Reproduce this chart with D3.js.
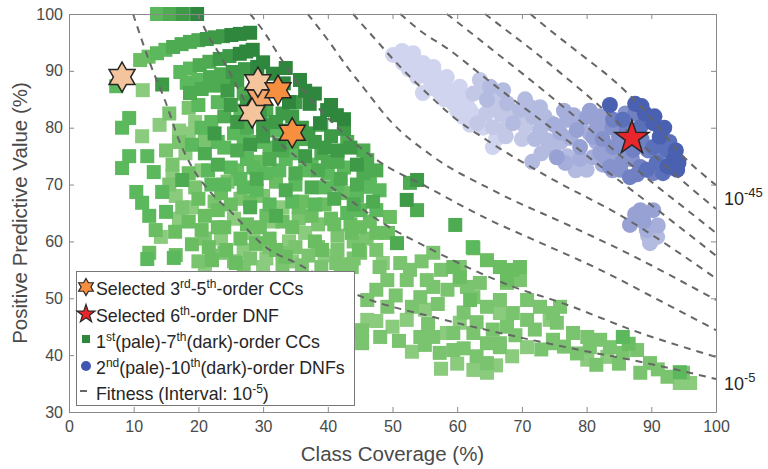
<!DOCTYPE html>
<html>
<head>
<meta charset="utf-8">
<script src="https://cdn.jsdelivr.net/npm/d3@7"></script>
<style>
  body { margin: 0; background: #fff; }
  svg { font-family: "Liberation Sans", Arial, Helvetica, sans-serif; }
</style>
</head>
<body>
<div id="chart"></div>
<script>
// axis ticks
const xTicks = [0, 10, 20, 30, 40, 50, 60, 70, 80, 90, 100];
const yTicks = [30, 40, 50, 60, 70, 80, 90, 100];

// CC points [coverage, ppv], 1st (pale) .. 7th (dark) order
const ccOrder1 = [[11.3,78.5],[14.2,60.8],[11.4,86.6],[17.0,79.5],[19.5,81.0],[18.0,75.5],[20.5,72.5],[16.5,68.0],[19.0,66.0],[25.5,64.0],[28.5,61.5],[31.5,63.5],[34.0,60.0],[27.0,58.5],[30.5,57.0],[23.5,60.5],[36.5,61.5],[39.5,57.5],[33.0,66.0],[16.0,71.5],[18.5,79.0],[14.0,80.5],[17.0,64.0],[30.0,55.5],[34.5,56.5],[21.0,55.0],
  [58.4,43.9],[62.5,37.4],[64.6,36.9],[80.1,39.2],[83.2,39.7],[94.4,35.1],[96.0,35.1],[74.3,46.2],[66.6,47.4],[60.4,45.7],[55.0,48.0],[46.1,46.2],[52.2,46.2],[48.5,56.2],[70.8,41.4],[57.5,37.6],[60.0,38.5],[66.0,38.2],[68.5,39.8],[53.0,40.6],[50.0,45.0],[47.5,46.0]];
const ccOrder2 = [[15.5,82.5],[18.5,83.5],[21.0,78.0],[16.0,73.5],[19.5,69.5],[22.5,67.0],[24.5,70.5],[26.5,67.5],[30.0,68.0],[35.5,64.0],[38.5,63.0],[41.5,61.0],[44.0,60.0],[37.0,57.5],[42.0,56.0],[22.0,57.5],[25.5,56.5],[29.0,59.5],[33.0,58.0],[45.0,58.0],[43.7,55.5],[41.3,56.2],[36.0,55.8],[17.5,66.0],[15.5,70.0],[17.0,77.5],[15.0,76.0],[21.0,60.5],[24.0,58.0],[28.0,57.0],[31.0,59.0],[35.0,59.0],[38.5,59.0],[41.5,58.5],[44.0,57.0],[20.0,56.5],[27.0,55.5],[33.0,55.8],[39.0,55.5],[47.5,58.5],[46.0,60.5],[48.0,55.5],
  [56.3,58.0],[60.4,55.5],[60.4,53.2],[63.5,52.7],[62.5,50.2],[61.5,52.0],[64.6,48.5],[67.7,52.7],[66.6,49.7],[69.7,53.2],[68.6,47.4],[70.8,49.7],[72.8,48.5],[75.9,48.5],[74.8,42.7],[77.9,43.9],[80.1,43.2],[82.1,42.7],[80.5,41.4],[83.6,41.4],[85.6,40.4],[87.8,40.9],[89.8,38.6],[88.3,36.9],[94.9,36.9],[62.5,43.9],[59.4,40.9],[64.6,38.6],[66.6,41.4],[57.3,40.4],[64.6,42.1],[66.6,42.1],[74.8,42.1],[59.4,43.9],[56.3,43.2],[54.3,43.2],[48.1,43.2],[45.0,43.9],[45.3,42.1],[45.3,44.4],[49.2,48.5],[46.1,49.7],[52.2,53.2],[49.2,53.2],[55.3,53.2],[56.3,52.0],[54.3,50.2],[51.2,56.2],[52.7,55.0],[67.7,45.0],[70.8,46.2],[75.4,45.7],[74.8,47.4],
  [47.5,51.5],[50.5,50.5],[53.0,48.5],[57.0,49.0],[58.5,51.5],[57.5,55.0],[54.5,56.5],[55.5,45.5],[61.0,47.5],[63.0,45.8],[65.5,44.5],[69.0,43.5],[72.0,44.5],[73.0,41.0],[76.5,41.5],[78.5,40.3],[81.5,38.3],[85.0,38.5],[91.0,37.5],[92.5,36.2],[51.0,42.5],[55.0,41.8],[61.0,41.2],[63.0,39.8]];
const ccOrder3 = [[11.0,91.9],[12.3,92.5],[62.5,58.8],[64.6,56.7],[59.4,55.5],[60.4,53.7],[66.6,55.5],[68.6,55.0],[67.7,53.2],[69.7,55.5],[62.0,49.7],[86.5,42.0],
  [24.0,62.5],[27.5,63.0],[31.0,60.5],[34.5,62.5],[38.0,60.0],[40.5,64.0],[43.5,63.0],[20.5,62.0],[23.0,65.5],[26.0,72.5],[29.5,74.0],[32.0,70.5],[36.0,67.0],[39.5,66.5],[42.5,68.5],[46.5,63.5],[49.6,64.3],[49.3,61.5],[21.6,59.0],[24.3,58.5],[22.1,56.7],[25.8,56.2],[28.9,59.7],[32.0,58.5],[33.5,57.3],[39.1,58.5],[44.8,58.5],[43.7,61.5],[13.4,62.0],[16.4,61.7],[12.4,58.0],[16.5,57.6],
  [18.5,72.0],[20.0,67.5],[23.5,68.5],[21.0,64.5],[25.0,66.5],[28.0,67.0],[30.5,64.5],[33.0,63.5],[35.5,66.0],[37.5,64.5],[41.0,63.0],[45.0,62.5],[47.5,61.5],[26.5,60.5],[29.5,62.5],[23.0,62.5],[18.5,63.5],[19.0,59.5]];
const ccOrder4 = [[13.6,100],[13.6,93.1],[14.9,93.7],[17.2,89.8],[18.7,90.4],[18.2,87.9],[20.0,88.4],[7.3,87.3],[9.3,81.7],[8.2,80.0],[9.3,75.0],[12.1,75.0],[8.2,72.9],[13.1,72.2],[10.4,68.7],[11.3,66.8],[14.4,68.7],[12.4,64.5],[15.0,65.2],[12.1,56.9],[16.2,57.1],
  [20.0,84.0],[23.0,84.5],[26.5,83.0],[22.0,81.0],[25.5,79.0],[29.0,77.5],[32.0,79.5],[24.0,76.5],[27.5,74.5],[30.5,72.0],[33.5,74.5],[36.5,72.5],[40.0,72.0],[25.0,73.0],[22.0,70.0],[27.0,69.5],[31.0,66.5],[34.5,67.0],[38.0,66.5],[41.5,70.0],[44.5,68.0],[46.5,69.6],[47.5,65.5],[43.0,65.0],[19.0,77.0],
  [21.5,72.5],[24.0,70.0],[26.5,71.0],[29.0,69.0],[32.5,72.5],[35.0,70.0],[37.5,73.5],[39.5,69.5],[42.5,73.0],[45.0,65.5],[28.5,73.0],[31.0,76.5],[34.5,75.5],[23.0,77.5],[27.0,78.0],[20.5,80.0],[46.5,71.5],[48.0,69.0],
  [62.4,59.0],[85.6,43.2],[94.4,37.0]];
const ccOrder5 = [[15.6,100],[17.4,94.7],[18.7,95.1],[16.1,94.2],[20.0,95.4],[20.2,91.0],[21.7,91.6],[21.8,88.9],[23.5,89.4],[22.4,87.4],[18.7,86.1],[20.5,86.8],[24.2,87.9],[27.0,86.0],[24.0,82.0],[27.5,80.0],[30.5,83.0],[34.5,77.5],[39.0,75.5],[41.5,74.0],[45.5,72.0],[46.1,74.3],[44.5,70.0],[42.0,71.0],[38.5,72.5],[35.0,72.0],[31.0,74.5],[26.0,76.0],[23.0,73.5],[29.0,71.0],[33.5,69.0],[37.5,69.5],[41.0,67.5],[44.0,66.5],[47.0,67.0],[52.7,70.3],[53.8,65.5],[50.7,59.7],[59.7,62.9],[21.0,75.5],[17.5,70.8],[28.0,66.0],[32.0,64.5],
  [36.0,78.0],[39.0,80.5],[33.0,76.0],[40.0,74.0],[43.0,77.5],[45.5,76.0],[47.5,72.5]];
const ccOrder6 = [[17.6,100],[22.5,95.9],[23.8,96.1],[21.3,95.6],[23.3,92.1],[24.8,92.6],[25.3,89.8],[27.2,90.3],[26.0,88.4],[14.4,87.6],[31.0,86.8],[33.0,82.5],[36.0,80.0],[38.0,77.5],[40.5,78.5],[42.5,79.8],[30.0,80.5],[28.0,77.0],[43.5,76.5],[44.5,73.5],[53.8,70.8],[52.2,67.3],[36.5,75.0],[32.5,77.0],[25.0,84.0],[22.5,79.0],
  [24.5,86.5],[27.5,84.5],[29.5,82.5],[32.0,81.0],[34.5,82.0],[37.0,79.0],[39.5,76.5],[41.5,76.0],[35.0,84.5],[30.0,78.5],[26.0,81.0],[34.0,79.5]];
const ccOrder7 = [[19.8,100],[25.1,96.3],[28.0,96.7],[26.4,96.5],[27.4,93.4],[28.4,93.7],[26.4,93.0],[29.1,90.7],[35.7,88.4],[37.2,84.2],[39.9,83.1],[41.4,82.2],[38.8,80.8],[34.0,84.5],[36.5,86.5],[31.5,89.5],[33.2,87.8],[38.0,86.0],[40.5,84.0],[42.5,81.5],[30.0,91.5],[33.5,90.5]];

// DNF points, 2nd (pale) .. 10th (dark) order
const dnfOrder2 = [[50.1,92.8],[53.2,93.1],[51.6,91.4],[54.7,91.4],[56.3,90.7],[53.8,88.9],[55.8,88.4],[58.4,88.9],[54.7,86.1],[57.3,86.1],[60.4,87.2],[59.4,84.3],[62.0,83.1],[60.9,81.9],[65.5,76.6],
  [51.5,93.5],[52.5,92.0],[55.0,90.0],[56.5,89.5],[57.5,87.5],[59.0,86.5],[56.0,87.0],[58.0,85.0],[61.0,85.5],[61.5,84.0],[63.0,82.0],[64.0,80.0],[62.0,80.5],[66.0,78.0],[60.0,83.0],[52.5,90.3],[54.2,89.8]];
const dnfOrder3 = [[63.1,80.8],[65.5,80.1],[67.1,79.6],[63.5,88.4],[62.5,86.0],[66.0,84.0],[64.0,86.5],[66.2,85.5],[68.0,83.0],[66.8,82.3],[69.5,81.5],[70.5,80.2],[67.5,78.5],[70.0,78.0],[64.5,82.5]];
const dnfOrder4 = [[65.1,87.2],[67.1,86.6],[64.6,84.9],[67.7,84.3],[69.7,83.1],[68.6,80.8],[71.7,81.9],[72.8,83.6],[72.8,79.6],[73.9,77.8],[71.6,74.0],[80.0,72.6],[89.8,59.7],[90.9,60.8],
  [70.5,85.0],[71.5,83.5],[73.5,82.0],[74.5,80.8],[72.0,78.0],[74.5,76.5],[73.0,75.5],[76.0,77.5],[78.3,72.5],[77.0,75.0],[89.5,61.0]];
const dnfOrder5 = [[75.9,79.1],[76.7,73.8],[81.0,74.8],[77.0,81.4],[75.0,80.5],[89.3,62.0],[76.5,83.0],[78.0,82.2],[79.0,80.5],[77.5,78.2],[80.5,79.0],[79.0,74.5],[81.5,77.5],[82.5,73.5],[91.0,62.8]];
const dnfOrder6 = [[78.5,79.6],[80.1,81.9],[81.0,78.4],[79.0,76.6],[82.1,75.6],[75.4,74.8],[81.6,80.1],[86.7,62.9],[88.3,65.5],[90.3,65.5],[80.5,83.0],[82.0,82.0],[83.2,80.5],[82.6,77.0],[84.5,75.0],[83.0,74.5],[84.0,72.5],[87.5,64.8],[88.8,63.5]];
const dnfOrder7 = [[83.6,73.1],[84.1,76.6],[85.2,72.6],[82.5,78.0],[84.0,80.0],[85.0,78.5],[86.0,76.5],[85.5,74.0],[87.0,74.5],[86.0,82.5]];
const dnfOrder8 = [[84.1,81.4],[86.2,79.6],[87.2,76.1],[88.3,73.1],[86.7,71.3],[90.3,72.0],[87.5,82.5],[88.5,78.0],[89.5,76.0],[87.8,71.8],[91.0,74.5]];
const dnfOrder9 = [[85.6,81.4],[88.3,80.1],[90.3,76.6],[89.3,72.6],[91.8,72.0],[92.4,76.1],[89.5,81.5],[91.5,79.5],[92.8,77.5],[93.0,73.0],[90.8,73.8]];
const dnfOrder10 = [[83.6,84.0],[90.3,80.8],[91.3,78.4],[93.4,74.3],[94.0,72.6],[89.0,82.5],[88.5,83.8],[90.5,82.0],[92.0,80.0],[93.8,76.0],[94.2,73.8],[92.5,73.2],[87.5,84.2]];

// selected models
const selectedPaleCC = [[8.2,88.9],[29.2,88.0],[28.3,82.6]];
const selectedMidCC = [[29.5,85.3]];
const selectedCC = [[32.3,86.6],[34.5,79.1]];
const selectedDNF = [[87.0,78.2]];

// iso-fitness curves (10^-5 .. 10^-45)
const fitness05 = [[9.9,100],[12.5,91.4],[15.0,84.3],[17.0,77.8],[19.0,73.1],[21.6,69.0],[25.2,65.0],[30.4,59.0],[35.1,56.2],[45.4,50.2],[56.3,46.7],[66.6,43.9],[79.0,40.9],[89.3,38.6],[100,35.8]];
const fitness10 = [[19.9,100],[21.3,96.7],[23.8,91.9],[26.0,87.2],[28.0,83.1],[32.1,77.8],[35.2,74.8],[39.1,70.8],[43.4,67.3],[48.5,63.2],[55.3,59.0],[61.5,55.5],[68.7,52.0],[75.9,49.3],[88.3,43.9],[100,39.7]];
const fitness15 = [[28.0,100],[29.8,97.4],[32.9,91.9],[36.2,86.6],[40.8,80.8],[47.6,74.3],[55.3,69.6],[64.6,64.0],[72.8,59.8],[82.1,55.0],[90.3,50.2],[100,44.4]];
const fitness20 = [[36.9,100],[39.9,95.6],[43.0,90.7],[46.1,86.2],[49.1,81.9],[56.3,74.9],[65.5,69.0],[77.9,62.5],[86.2,58.0],[100,49.7]];
const fitness25 = [[43.9,100],[47.0,96.0],[51.2,90.7],[55.3,86.1],[59.4,81.9],[64.6,77.8],[74.3,71.2],[85.2,64.6],[100,53.5]];
const fitness30 = [[51.2,100],[54.7,96.7],[58.4,94.0],[63.5,89.5],[68.6,85.0],[73.9,80.5],[79.0,76.0],[84.1,71.5],[89.3,67.0],[94.4,62.5],[100,57.5]];
const fitness35 = [[58.4,100],[62.0,96.8],[66.0,93.2],[70.0,89.6],[75.0,85.0],[80.0,80.2],[85.0,75.3],[90.0,70.5],[95.0,66.0],[100,61.5]];
const fitness40 = [[64.3,100],[68.0,96.8],[72.0,93.3],[76.0,89.6],[80.0,85.8],[84.0,81.8],[88.0,77.6],[92.0,73.5],[96.0,69.5],[100,65.7]];
const fitness45 = [[71.3,100],[74.3,97.2],[79.0,93.0],[84.1,88.4],[89.3,82.6],[94.4,75.6],[100,69.9]];

const ccColors = ["#8acb7e", "#7bc46f", "#6bbd62", "#5cb85c", "#4eab52", "#3e9a47", "#2e873d"];
const dnfColors = ["#d0d4ee", "#c3c8e7", "#b4bbe1", "#a6aedb", "#97a1d4", "#8592cc", "#7080c3", "#5b70ba", "#4a60b0"];

function drawChart() {
  const width = 768, height = 469;
  const margin = { top: 14, right: 52, bottom: 57, left: 69 };

  const svg = d3.select("#chart").append("svg")
    .attr("width", width)
    .attr("height", height);

  const x = d3.scaleLinear().domain([0, 100]).range([margin.left, width - margin.right]);
  const y = d3.scaleLinear().domain([30, 100]).range([height - margin.bottom, margin.top]);

  const axisColor = "#8a8a8a";
  const textColor = "#4a4a4a";

  // CC squares, pale first so dark ones sit on top
  const ccSets = [ccOrder1, ccOrder2, ccOrder3, ccOrder4, ccOrder5, ccOrder6, ccOrder7];
  ccSets.forEach((set, i) => {
    svg.append("g").selectAll("rect")
      .data(set)
      .enter().append("rect")
      .attr("x", d => x(d[0]) - 7)
      .attr("y", d => y(d[1]) - 7)
      .attr("width", 14)
      .attr("height", 14)
      .attr("fill", ccColors[i]);
  });

  const dnfSets = [dnfOrder2, dnfOrder3, dnfOrder4, dnfOrder5, dnfOrder6, dnfOrder7, dnfOrder8, dnfOrder9, dnfOrder10];
  dnfSets.forEach((set, i) => {
    svg.append("g").selectAll("circle")
      .data(set)
      .enter().append("circle")
      .attr("cx", d => x(d[0]))
      .attr("cy", d => y(d[1]))
      .attr("r", 8)
      .attr("fill", dnfColors[i]);
  });

  // fitness curves
  const line = d3.line()
    .x(d => x(d[0]))
    .y(d => y(d[1]))
    .curve(d3.curveMonotoneX);
  const curves = [fitness05, fitness10, fitness15, fitness20, fitness25, fitness30, fitness35, fitness40, fitness45];
  svg.append("g").selectAll("path")
    .data(curves)
    .enter().append("path")
    .attr("d", line)
    .attr("fill", "none")
    .attr("stroke", "#666")
    .attr("stroke-width", 2)
    .attr("stroke-dasharray", "7,6");

  // axes (box with inward ticks)
  const bottom = svg.append("g")
    .attr("transform", `translate(0,${y(30)})`)
    .call(d3.axisBottom(x).tickValues(xTicks).tickSizeInner(-5).tickSizeOuter(0).tickPadding(9));
  const left = svg.append("g")
    .attr("transform", `translate(${x(0)},0)`)
    .call(d3.axisLeft(y).tickValues(yTicks).tickSizeInner(-5).tickSizeOuter(0).tickPadding(6));
  const top = svg.append("g")
    .attr("transform", `translate(0,${y(100)})`)
    .call(d3.axisTop(x).tickValues(xTicks).tickSizeInner(-5).tickSizeOuter(0).tickFormat(""));
  const right = svg.append("g")
    .attr("transform", `translate(${x(100)},0)`)
    .call(d3.axisRight(y).tickValues(yTicks).tickSizeInner(-5).tickSizeOuter(0).tickFormat(""));

  [bottom, left, top, right].forEach(g => {
    g.selectAll("path, line").attr("stroke", axisColor);
    g.selectAll("text").attr("fill", textColor).style("font-size", "16px");
  });

  svg.append("text")
    .attr("x", (x(0) + x(100)) / 2)
    .attr("y", 461)
    .attr("text-anchor", "middle")
    .attr("fill", textColor)
    .style("font-size", "20.5px")
    .text("Class Coverage (%)");

  svg.append("text")
    .attr("transform", `translate(27,${(y(30) + y(100)) / 2}) rotate(-90)`)
    .attr("text-anchor", "middle")
    .attr("fill", textColor)
    .style("font-size", "20.5px")
    .text("Positive Predictive Value (%)");

  // star shapes
  function starPath(n, R, r) {
    const pts = [];
    for (let i = 0; i < 2 * n; i++) {
      const a = -Math.PI / 2 + i * Math.PI / n;
      const rad = i % 2 === 0 ? R : r;
      pts.push([rad * Math.cos(a), rad * Math.sin(a)]);
    }
    return "M" + pts.map(p => p.join(",")).join("L") + "Z";
  }
  const hexStar = starPath(6, 15, 15 * 0.577);
  const fiveStar = starPath(5, 18, 18 * 0.39);

  function drawStars(data, path, fill) {
    svg.append("g").selectAll("path")
      .data(data)
      .enter().append("path")
      .attr("d", path)
      .attr("transform", d => `translate(${x(d[0])},${y(d[1])})`)
      .attr("fill", fill)
      .attr("stroke", "#262626")
      .attr("stroke-width", 1.5);
  }
  drawStars(selectedMidCC, hexStar, "#f6a568");
  drawStars(selectedPaleCC, hexStar, "#f4c49c");
  drawStars(selectedCC, hexStar, "#f68f3f");
  drawStars(selectedDNF, fiveStar, "#e8262b");

  // right-hand fitness labels
  const rightLabels = [
    { text: "10", sup: "-45", yy: 205 },
    { text: "10", sup: "-5", yy: 390 }
  ];
  rightLabels.forEach(l => {
    const t = svg.append("text")
      .attr("x", 724)
      .attr("y", l.yy)
      .attr("fill", "#262626")
      .style("font-size", "18px");
    t.append("tspan").text(l.text);
    t.append("tspan").attr("dy", -8).style("font-size", "13px").text(l.sup);
  });

  // legend
  const legend = svg.append("g");
  legend.append("rect")
    .attr("x", 76.5).attr("y", 271.5)
    .attr("width", 278).attr("height", 134)
    .attr("fill", "#fff")
    .attr("stroke", "#777")
    .attr("stroke-width", 1);

  const lx = 86;
  legend.append("path").attr("d", starPath(6, 8.5, 8.5 * 0.577))
    .attr("transform", `translate(${lx},287)`)
    .attr("fill", "#f68f3f").attr("stroke", "#262626").attr("stroke-width", 1.2);
  legend.append("path").attr("d", starPath(5, 9.5, 9.5 * 0.39))
    .attr("transform", `translate(${lx},314)`)
    .attr("fill", "#e8262b").attr("stroke", "#262626").attr("stroke-width", 1.2);
  legend.append("rect")
    .attr("x", lx - 4).attr("y", 335).attr("width", 8).attr("height", 8)
    .attr("fill", "#2e873d");
  legend.append("circle")
    .attr("cx", lx).attr("cy", 366).attr("r", 5)
    .attr("fill", "#3f57b0");
  legend.append("line")
    .attr("x1", lx - 6).attr("x2", lx + 1).attr("y1", 391).attr("y2", 391)
    .attr("stroke", "#666").attr("stroke-width", 2);

  const legendRows = [
    { yy: 295, parts: [["Selected 3"], ["rd", 1], ["-5"], ["th", 1], ["-order CCs"]] },
    { yy: 322, parts: [["Selected 6"], ["th", 1], ["-order DNF"]] },
    { yy: 348, parts: [["1"], ["st", 1], ["(pale)-7"], ["th", 1], ["(dark)-order CCs"]] },
    { yy: 374, parts: [["2"], ["nd", 1], ["(pale)-10"], ["th", 1], ["(dark)-order DNFs"]] },
    { yy: 400, parts: [["Fitness (Interval: 10"], ["-5", 1], [")"]] }
  ];
  legendRows.forEach(row => {
    const t = legend.append("text")
      .attr("x", 96)
      .attr("y", row.yy)
      .attr("fill", "#262626")
      .style("font-size", "17.8px");
    let raised = false;
    row.parts.forEach(p => {
      const span = t.append("tspan").text(p[0]);
      if (p[1] && !raised) {
        span.attr("dy", -7).style("font-size", "12px");
        raised = true;
      } else if (!p[1] && raised) {
        span.attr("dy", 7);
        raised = false;
      } else if (p[1]) {
        span.style("font-size", "12px");
      }
    });
  });
}

drawChart();
</script>
</body>
</html>
